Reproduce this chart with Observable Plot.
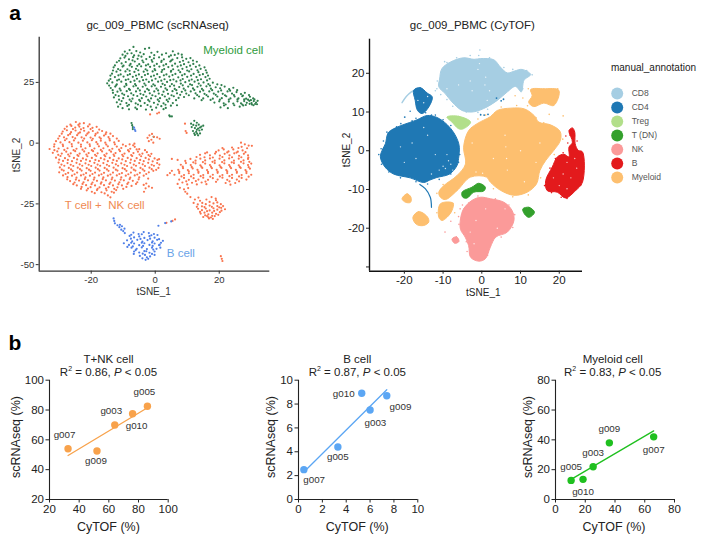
<!DOCTYPE html>
<html><head><meta charset="utf-8">
<script src="https://cdn.jsdelivr.net/npm/d3@7"></script>
<script src="https://cdn.jsdelivr.net/npm/@observablehq/plot@0.6"></script>
<style>
html,body{margin:0;padding:0;background:#fff;}
#page{position:relative;width:709px;height:541px;overflow:hidden;font-family:"Liberation Sans",Arial,sans-serif;color:#222;}
#page>svg,#page>figure{position:absolute;margin:0;}
.t{position:absolute;white-space:nowrap;transform:translate(-50%,-50%);}
.t.v{transform:translate(-50%,-50%) rotate(-90deg);}
</style></head><body><div id="page"></div>
<script>
// ---------- panel a, scRNAseq t-SNE: cells ----------
const myeloidCells=[[-8,38.3],[-6.8,39.6],[-5.9,37.9],[-3.2,38.8],[-1.9,39.2],[-9.5,37.7],[-10.2,36.4],[-8.7,36.9],[-7.4,37],[-6.6,36.1],[-4.7,37.3],[-3.6,36.6],[-1.2,37.2],[0.7,37.6],[2.1,36.4],[3.4,37],[5.5,37.8],[6.1,36.3],[7.2,36.8],[-10.9,34.9],[-9.6,35.2],[-8.2,34.5],[-6.9,35.4],[-5.5,34.7],[-4.3,35.6],[-2.8,34.6],[-1.7,35.5],[-0.4,34.9],[1.2,35.3],[2.7,34.5],[4.3,35.6],[5.4,34.4],[6.9,35],[8.4,35.3],[9.7,34.7],[11,35],[-12,33.3],[-10.5,32.8],[-9.2,33.4],[-7.7,32.6],[-6.4,33.6],[-5,32.5],[-3.7,33.3],[-2.2,32.4],[-0.9,33.5],[0.5,32.6],[1.9,33.4],[3.4,32.5],[4.7,33.6],[6.2,32.7],[7.7,33.4],[9,32.5],[10.4,33.3],[11.9,32.6],[13,33.5],[-13,31.2],[-11.6,30.5],[-10.2,31.5],[-8.7,30.4],[-7.3,31.4],[-6,30.6],[-4.4,31.6],[-3,30.4],[-1.6,31.4],[-0.2,30.5],[1.3,31.5],[2.8,30.5],[4.1,31.3],[5.6,30.4],[7,31.5],[8.5,30.6],[9.8,31.3],[11.3,30.4],[12.7,31.4],[14.2,30.6],[15.4,31.2],[-13.5,28.6],[-12.1,29.4],[-10.8,28.3],[-9.3,29.5],[-7.9,28.4],[-6.5,29.3],[-5.1,28.3],[-3.6,29.4],[-2.3,28.5],[-0.8,29.5],[0.6,28.4],[2,29.3],[3.5,28.3],[4.9,29.4],[6.3,28.5],[7.8,29.2],[9.2,28.4],[10.6,29.5],[12,28.5],[13.5,29.2],[14.9,28.4],[16.1,29],[-14,26.4],[-12.6,27.2],[-11.3,26.2],[-9.9,27.4],[-8.4,26.3],[-7,27.3],[-5.7,26.5],[-4.2,27.2],[-2.8,26.2],[-1.3,27.4],[0.1,26.5],[1.4,27.2],[2.9,26.3],[4.4,27.4],[5.7,26.2],[7.2,27.1],[8.6,26.4],[10,27.3],[11.4,26.2],[12.9,27.2],[14.3,26.3],[15.7,27.2],[17,26.5],[-15,24.6],[-13.4,25],[-12,24.2],[-10.6,25.3],[-9.1,24.4],[-7.7,25.2],[-6.3,24.3],[-4.9,25.4],[-3.4,24.5],[-2,25.2],[-0.6,24.2],[0.9,25.3],[2.3,24.4],[3.7,25.2],[5.2,24.3],[6.6,25.4],[8,24.5],[9.4,25.1],[10.9,24.2],[12.3,25.3],[13.6,24.5],[15.1,25],[16.6,24.3],[18,24.9],[19.4,24.2],[-13.9,22.7],[-12.5,23.3],[-11.1,22.4],[-9.6,23.3],[-8.2,22.3],[-6.8,23.4],[-5.4,22.5],[-3.9,23.2],[-2.5,22.3],[-1.1,23.4],[0.4,22.4],[1.8,23.2],[3.2,22.5],[4.6,23.4],[6.1,22.3],[7.5,23.1],[8.9,22.4],[10.3,23.3],[11.8,22.5],[13.2,23.2],[14.6,22.3],[16,23.4],[17.4,22.4],[18.9,23],[20.3,22.6],[21.7,23.3],[23.1,22.2],[24.4,22.8],[-13.2,20.7],[-11.8,21.2],[-10.3,20.4],[-8.9,21.4],[-7.5,20.5],[-6,21.3],[-4.6,20.3],[-3.2,21.2],[-1.7,20.5],[-0.3,21.3],[1.1,20.4],[2.6,21.2],[4,20.3],[5.4,21.4],[6.8,20.5],[8.3,21.1],[9.7,20.4],[11.1,21.3],[12.6,20.5],[14,21.2],[15.4,20.3],[16.9,21.3],[18.3,20.4],[19.7,21.2],[21.1,20.3],[22.6,21.3],[24,20.4],[25.4,21],[26.8,20.2],[28,20.7],[-12.9,18.8],[-11.4,19.4],[-10,18.5],[-8.5,19.3],[-7.1,18.3],[-5.6,19.4],[-4.2,18.5],[-2.8,19.2],[-1.3,18.4],[0.1,19.3],[1.5,18.5],[3,19.2],[4.4,18.3],[5.8,19.3],[7.3,18.6],[9,19],[12.2,18.4],[13.7,19.2],[15,18.4],[16.5,19.2],[18,18.3],[19.4,19.2],[20.8,18.5],[22.2,19.3],[23.5,18.4],[24.8,19.2],[26,18.4],[27.2,19.3],[28.4,18.3],[29.6,19.1],[30.6,18.4],[-12,16.8],[-10.5,17.3],[-9,16.5],[-7.5,17.2],[-6.1,16.4],[-4.7,17.3],[-3.3,16.5],[-1.8,17.2],[-0.4,16.6],[1.2,17.2],[2.6,16.4],[4,17.1],[5.5,16.5],[18.5,16.7],[20,17.2],[21.4,16.4],[23,17.1],[24.4,16.3],[25.7,17.2],[26.8,16.4],[27.8,17.3],[28.6,16.6],[29.4,17.4],[30.1,16.5],[30.8,17.3],[31.5,16.7],[32,17.4],[29,17.9],[30.2,15.9],[31.2,16.1],[28.3,15.7],[-11.6,15],[-10.2,14.4],[-8.7,15.3],[-6.2,14.6],[-4.5,15.3],[-2.9,13.8],[-1.4,15],[0.3,14.6],[1.9,15.2],[3.3,14.5],[4.9,15.4],[6.8,15.6],[20.4,14.7],[21.5,15.5],[22.7,14.4],[26.4,15],[27.5,15.5],[4.6,11]];
const myeloidCellsB=[[-9.3,35.9],[-5.2,36],[-0.3,36.2],[4.9,36.1],[8.3,36.4],[-11.3,33.9],[-7.1,34.1],[-4,34],[-1.1,34.2],[2,33.9],[5,34],[8.7,33.9],[11.8,34],[-12.6,32],[-9.9,31.9],[-8,32],[-5.6,31.8],[-2.9,32],[-0.3,31.9],[2.6,32],[5.3,31.9],[8,32],[10.9,31.9],[13.8,32],[-13.2,29.9],[-10.9,30],[-8,29.8],[-5.3,30],[-2.5,29.9],[0,30],[2.2,30.1],[5,29.8],[7.3,30],[10,29.9],[13.2,30],[15.8,30],[-14,27.8],[-11.5,27.9],[-8.6,28],[-6,27.8],[-3.2,28],[-0.4,27.8],[2.7,27.9],[5.4,28],[8.4,27.9],[11.2,27.8],[13.9,28],[16.5,27.8],[-14.5,25.7],[-11.9,25.8],[-9.2,26],[-6.5,25.7],[-3.8,25.9],[-1,25.8],[1.9,25.7],[4.7,25.9],[7.9,25.8],[10.6,25.7],[13.3,25.9],[16.2,25.8],[-14.4,23.7],[-12.2,23.8],[-9,23.9],[-6,23.7],[-3,23.8],[-0.1,23.7],[3,23.9],[5.9,23.7],[8.6,23.8],[11.5,23.9],[14.2,23.7],[17.1,23.7],[20.7,23.9],[-13.3,21.8],[-10.8,21.7],[-7.9,21.9],[-4.8,21.7],[-2,21.8],[0.9,21.7],[3.7,21.9],[6.6,21.8],[9.4,21.7],[12.2,21.9],[15,21.7],[17.8,21.8],[20.6,21.7],[23.4,21.6],[25.6,21.8],[-12.4,19.8],[-9.7,19.9],[-6.8,19.8],[-3.7,19.9],[-0.9,19.7],[2.2,19.9],[5.1,19.7],[7.8,19.9],[10.5,19.7],[13.1,19.8],[16,19.8],[18.9,19.9],[21.8,19.7],[24.6,19.8],[27.4,19.6],[29.3,19.8],[-11.3,17.9],[-8,17.9],[-5,17.8],[-2.2,17.8],[0.8,17.9],[3.6,17.8],[6.5,17.7],[14.5,17.7],[17.3,17.8],[20.2,17.9],[23,17.9],[25.7,18],[27.8,18],[29.9,17.7],[31,18],[-10.9,16],[-8.2,15.8],[-5.4,15.9],[-2.4,15.7],[0.8,15.9],[3.2,15.8],[22,15.9],[24.7,15.6],[27.2,15.9],[29.5,16.2],[31.8,16],[30.7,15.6],[-8.2,13.9],[-5.7,14],[-1,13.7],[2.6,14]];
const tCellsLeft=[[-24.8,8.7],[-23.6,8],[-22.3,8.2],[-27.6,6.8],[-26.2,7.1],[-25,6.4],[-23.7,6.8],[-22.4,6.2],[-21,6.9],[-19.6,6.3],[-18.3,6.7],[-28.9,4.8],[-27.6,5.3],[-26.3,4.5],[-24.9,5.2],[-23.5,4.4],[-22.2,5.1],[-20.8,4.4],[-19.5,5],[-18,4.3],[-16.6,5],[-15.3,4.4],[-29.9,2.9],[-28.5,2.4],[-27.2,3.3],[-25.8,2.5],[-24.4,3.3],[-23,2.4],[-21.6,3.2],[-20.2,2.3],[-18.8,3.1],[-17.4,2.4],[-16,3.1],[-14.6,2.5],[-13.2,2.9],[-31,0.8],[-29.6,0.3],[-28.2,1.2],[-26.8,0.4],[-25.4,1.1],[-24,0.2],[-22.6,1],[-21.2,0.3],[-19.8,1.2],[-18.4,0.4],[-17,1],[-15.6,0.2],[-14.2,1.1],[-12.8,0.3],[-11.4,0.9],[-8,-0.5],[-6.5,-0.2],[-33,-2.4],[-31.6,-1.4],[-30.2,-2.2],[-28.8,-1.2],[-27.4,-2.1],[-26,-1.3],[-24.6,-2.3],[-23.2,-1.4],[-21.8,-2.1],[-20.4,-1.2],[-19,-2.2],[-17.6,-1.3],[-16.2,-2.1],[-14.8,-1.3],[-13.4,-2.3],[-12,-1.4],[-10.6,-2],[-9.2,-1.2],[-7.8,-2.3],[-6.4,-1.5],[-5,-2.5],[-32,-4],[-30.6,-3.4],[-29.2,-4.3],[-27.8,-3.5],[-26.4,-4.2],[-25,-3.3],[-23.6,-4.3],[-22.2,-3.4],[-20.8,-4.1],[-19.4,-3.3],[-18,-4.2],[-16.6,-3.4],[-15.2,-4.3],[-13.8,-3.5],[-12.4,-4.1],[-11,-3.3],[-9.6,-4.3],[-8.2,-3.4],[-6.8,-4.1],[-5.4,-3.5],[-4,-4.3],[-2.6,-3.7],[-1.2,-4.4],[-31,-6],[-29.6,-5.3],[-28.2,-6.2],[-26.8,-5.4],[-25.4,-6.1],[-24,-5.3],[-22.6,-6.3],[-21.2,-5.4],[-19.8,-6.1],[-18.4,-5.3],[-17,-6.2],[-15.6,-5.4],[-14.2,-6.1],[-12.8,-5.3],[-11.4,-6.3],[-10,-5.4],[-8.6,-6.1],[-7.2,-5.3],[-5.8,-6.2],[-4.4,-5.4],[-3,-6.1],[-1.6,-5.4],[-0.2,-6.3],[1.2,-6.6],[-30.2,-8],[-28.8,-7.3],[-27.4,-8.2],[-26,-7.4],[-24.6,-8.1],[-23.2,-7.3],[-21.8,-8.3],[-20.4,-7.4],[-19,-8.1],[-17.6,-7.3],[-16.2,-8.2],[-14.8,-7.4],[-13.4,-8.1],[-12,-7.3],[-10.6,-8.3],[-9.2,-7.4],[-7.8,-8.1],[-6.4,-7.3],[-5,-8.2],[-3.6,-7.4],[-2.2,-8.1],[-0.8,-7.5],[0.6,-8.2],[-29.8,-10],[-28.4,-9.3],[-27,-10.2],[-25.6,-9.4],[-24.2,-10.1],[-22.8,-9.3],[-21.4,-10.3],[-20,-9.4],[-18.6,-10.1],[-17.2,-9.3],[-15.8,-10.2],[-14.4,-9.4],[-13,-10.1],[-11.6,-9.3],[-10.2,-10.3],[-8.8,-9.4],[-7.4,-10.1],[-6,-9.3],[-4.6,-10.2],[-3.2,-9.4],[-1.8,-10.1],[-0.4,-9.3],[1,-10.2],[-30,-12],[-28.6,-11.3],[-27.2,-12.2],[-25.8,-11.4],[-24.4,-12.1],[-23,-11.3],[-21.6,-12.3],[-20.2,-11.4],[-18.8,-12.1],[-17.4,-11.3],[-16,-12.2],[-14.6,-11.4],[-13.2,-12.1],[-11.8,-11.3],[-10.4,-12.3],[-9,-11.4],[-7.6,-12.1],[-6.2,-11.3],[-4.8,-12.2],[-3.4,-11.4],[-2,-12],[-0.6,-11.4],[-28.8,-13.3],[-27.4,-14],[-26,-13.4],[-24.6,-14.2],[-23.2,-13.3],[-21.8,-14.1],[-20.4,-13.4],[-19,-14.2],[-17.6,-13.3],[-16.2,-14.1],[-14.8,-13.4],[-13.4,-14.2],[-12,-13.3],[-10.6,-14.1],[-9.2,-13.4],[-7.8,-14.2],[-6.4,-13.3],[-5,-14.1],[-3.6,-13.4],[-2.2,-14.6],[-26.6,-15.6],[-25.2,-16.2],[-23.8,-15.4],[-22.4,-16.1],[-21,-15.3],[-19.6,-16.2],[-18.2,-15.5],[-16.8,-16.1],[-15.4,-15.3],[-14,-16.2],[-12.6,-15.4],[-11.2,-16.1],[-9.8,-15.3],[-8.4,-16.2],[-7,-15.5],[-5.6,-16.1],[-3.6,-17.2],[-24.5,-17.4],[-23,-18],[-21.6,-17.3],[-20.2,-18.1],[-18.8,-17.4],[-17.4,-18.2],[-16,-17.3],[-14.6,-18.1],[-13.2,-17.4],[-11.8,-18.2],[-10.4,-17.4],[-9,-18],[-7.4,-17.6],[-3,-18.6],[-2,-17.8],[-1,-18.4],[-21.4,-19.4],[-19.8,-20],[-18.2,-19.3],[-16.8,-20.2],[-15.2,-19.4],[-13.6,-20],[-12.2,-19.3],[-3.5,-20],[-14.8,-21.5],[-14,-22.3]];
const tCellsLeftB=[[-26.5,7.6],[-24,7.5],[-20.5,7.7],[-28.3,5.9],[-25.7,5.8],[-23.2,5.7],[-20.2,5.8],[-17.5,5.6],[-29.2,3.9],[-26.6,3.8],[-24,4],[-21.2,3.9],[-18.6,3.8],[-15.5,3.7],[-14,3.9],[-30.3,1.9],[-27.7,1.8],[-25,2],[-22.2,1.9],[-19.5,1.8],[-17,1.9],[-14.3,1.8],[-12,1.9],[-31.5,-0.5],[-28.9,-0.6],[-26.1,-0.4],[-23.2,-0.6],[-20.5,-0.5],[-18,-0.4],[-15.3,-0.6],[-12.6,-0.5],[-10.1,-0.6],[-6.9,-0.9],[-31.5,-2.9],[-28.4,-2.8],[-25.5,-2.9],[-22.7,-2.7],[-19.8,-2.9],[-17,-2.8],[-14.3,-2.9],[-11.3,-2.7],[-8.5,-2.9],[-5.8,-2.6],[-3.2,-2.9],[-30.3,-4.8],[-27.2,-4.7],[-24.3,-4.9],[-21.5,-4.7],[-18.8,-4.8],[-15.9,-4.9],[-13,-4.7],[-10.3,-4.8],[-7.5,-4.9],[-4.9,-4.7],[-2.1,-4.9],[-30,-6.8],[-27.3,-6.9],[-24.4,-6.7],[-21.6,-6.8],[-18.7,-6.9],[-15.9,-6.7],[-13.1,-6.9],[-10.3,-6.7],[-7.6,-6.8],[-4.7,-6.9],[-2,-6.7],[0.7,-6.9],[-29.3,-8.8],[-26.4,-8.9],[-23.6,-8.7],[-20.8,-8.9],[-18,-8.8],[-15.1,-8.9],[-12.3,-8.7],[-9.6,-8.9],[-6.7,-8.8],[-3.9,-8.7],[-1.1,-8.9],[1.3,-8.8],[-29.2,-10.9],[-26.3,-10.8],[-23.5,-10.7],[-20.7,-10.9],[-17.9,-10.7],[-15.1,-10.8],[-12.3,-10.9],[-9.5,-10.7],[-6.7,-10.9],[-3.9,-10.8],[-1.1,-10.7],[0.3,-11],[-28,-12.7],[-25.2,-12.8],[-22.4,-12.9],[-19.6,-12.7],[-16.8,-12.8],[-14,-12.9],[-11.2,-12.7],[-8.4,-12.8],[-5.6,-12.9],[-2.8,-12.7],[-27.5,-14.9],[-24.8,-15],[-22,-14.8],[-19.2,-15],[-16.4,-14.8],[-13.6,-14.9],[-10.8,-15],[-8,-14.8],[-5.2,-14.9],[-25.6,-16.9],[-22.7,-16.8],[-19.9,-16.9],[-17,-16.7],[-14.3,-16.8],[-11.5,-16.9],[-8.7,-16.8],[-6,-16.8],[-2.8,-16.6],[-23.2,-18.8],[-21,-18.7],[-18,-18.8],[-15.4,-18.7],[-12.8,-18.8],[-10,-18.8],[-18.9,-20.6],[-15.8,-20.7],[-12.9,-20.4]];
const tCellsRight=[[26.8,0.2],[28,-0.5],[29.2,-1],[30.2,-1.1],[27,-1.5],[19.8,-3],[21.4,-2.6],[22.9,-3.4],[24.4,-2.6],[25.8,-3.5],[27.3,-3],[14,-4.8],[15.6,-4.2],[17.1,-5],[18.7,-4.3],[20.2,-5.1],[21.7,-4.4],[23.2,-5],[24.7,-4.2],[26.2,-5.2],[27.7,-4.4],[29,-5],[5.2,-6.5],[7,-6.9],[11,-6.5],[12.6,-7.2],[14.1,-6.4],[15.6,-7.1],[17.1,-6.3],[18.6,-7.2],[20.1,-6.4],[21.6,-7.1],[23.1,-6.3],[24.6,-7.2],[26.1,-6.4],[27.6,-7.1],[29,-6.5],[8,-8.9],[9.6,-8.2],[11.1,-9],[12.6,-8.3],[14.1,-9.1],[15.6,-8.4],[17.1,-9],[18.6,-8.2],[20.1,-9.1],[21.6,-8.3],[23.1,-9],[24.6,-8.2],[26.1,-9.1],[27.6,-8.3],[29,-9],[30,-8.4],[7.2,-11],[8.7,-10.3],[10.2,-11.1],[11.7,-10.4],[13.2,-11],[14.7,-10.2],[16.2,-11.1],[17.7,-10.3],[19.2,-11],[20.7,-10.2],[22.2,-11.1],[23.7,-10.3],[25.2,-11],[26.7,-10.2],[28.2,-11.1],[29.6,-10.5],[6,-13],[7.5,-12.3],[9,-13.1],[10.5,-12.4],[12,-13],[13.5,-12.2],[15,-13.1],[16.5,-12.3],[18,-13],[19.5,-12.2],[21,-13.1],[22.5,-12.3],[24,-13],[25.5,-12.2],[27,-13.1],[28.5,-12.3],[30,-13],[4.6,-12.3],[3.8,-13.2],[5.2,-11.4],[7.5,-15],[9,-14.3],[10.5,-15.1],[12,-14.4],[13.5,-15],[15,-14.2],[16.5,-15.1],[18,-14.4],[19.5,-15],[21,-14.2],[22.5,-15.1],[24,-14.3],[25.5,-15],[27,-14.3],[28.5,-15],[7,-16.8],[8.5,-16.2],[10,-17],[11.5,-16.3],[13,-17],[14.5,-16.2],[16,-16.9],[22,-16.4],[23.5,-17.1],[25,-16.4],[7.7,-18.4],[9,-19],[10.3,-18.5],[9.4,-20],[10,-20.8],[11,-22.2],[12.4,-23.2],[13.5,-22.4],[14.7,-24.6],[16,-23.2],[17.6,-22.2],[18.9,-22.8],[19.4,-24.4],[12,-24.6],[13.3,-25.2],[14.6,-26],[15.8,-25.1],[17,-25.7],[18.2,-24.8],[19.4,-25.9],[20.5,-25.1],[13.4,-27],[14.6,-27.6],[15.8,-26.9],[17,-27.7],[18.2,-26.8],[19.4,-27.4],[20.6,-26.6],[21.8,-27.2],[14.2,-29],[15.4,-28.6],[16.6,-29.3],[17.8,-28.6],[19,-29.1],[20.2,-28.4],[15,-30.4],[16.2,-30],[17.4,-30.6],[18.6,-30],[16.8,-31],[18,-31.2]];
const tCellsRightB=[[21,-2],[24,-1.8],[26,-2],[28.7,-2.1],[16.2,-3.8],[19,-3.6],[22.5,-3.8],[25.4,-3.9],[28.2,-3.7],[12.9,-5.7],[15.4,-5.8],[18,-5.9],[21,-5.7],[24,-5.8],[26.9,-5.8],[29.1,-5.9],[9.4,-7.3],[11.9,-7.9],[14.9,-7.8],[17.9,-7.7],[20.9,-7.8],[23.9,-7.9],[26.8,-7.7],[29.4,-7.7],[8.6,-9.7],[11.4,-9.8],[14.4,-9.7],[17.4,-9.7],[20.4,-9.8],[23.4,-9.7],[26.4,-9.8],[29.2,-9.9],[7.5,-11.7],[10.5,-11.6],[13.5,-11.7],[16.5,-11.8],[19.5,-11.7],[22.5,-11.6],[25.5,-11.7],[28.5,-11.7],[8.2,-13.7],[11.2,-13.7],[14.2,-13.6],[17.2,-13.8],[20.2,-13.7],[23.2,-13.6],[26.2,-13.7],[29.2,-13.8],[9.7,-15.7],[12.7,-15.6],[15.7,-15.8],[19,-15.9],[23.2,-15.7],[26.2,-15.7],[14,-23.7],[17,-24.2],[19,-23.5],[13,-26.2],[15.4,-26.3],[17.7,-26.2],[20,-26.4],[21.2,-25.9],[14,-28.3],[16.2,-28],[18.4,-27.9],[20.7,-27.8],[15.6,-29.7],[17.8,-29.9],[19.7,-29.5],[16.6,-30.5]];
const tCellsSmall=[[-2.4,2.2],[-1.8,3.2],[-1,3.8],[-0.4,2.6],[0.6,2.4],[1.4,1.8],[-2,0.8],[-1.2,1.4],[-0.6,0.2],[9.5,5],[9.8,4.2],[9.3,8],[-1.6,11.8],[0.6,12.2],[1.2,12.6],[20.5,-46.5],[20.8,-47.6],[21,-48.5],[3.5,-32.8],[5.4,-32],[6.2,-31.4]];
const bCells=[[-13,-31],[-12.8,-32],[-12.6,-33],[-11.8,-33.8],[-11.2,-34.6],[-11,-33.6],[-10.4,-34.2],[-10.6,-35.6],[-10,-36.2],[-9.5,-37],[-9.6,-35.2],[-6.8,-36.8],[-5.2,-37.4],[-3.6,-36.6],[-2,-37],[-0.4,-37.4],[-8,-38.2],[-6.6,-38.8],[-5,-38.4],[-3.4,-39],[-1.8,-38.3],[-0.2,-38.9],[0.7,-37.8],[-8.8,-40],[-7.2,-40.4],[-5.6,-39.8],[-4,-40.5],[-2.4,-39.9],[-0.8,-40.4],[0.6,-39.8],[2.4,-40.2],[-9.8,-41.2],[-8.2,-41.9],[-6.6,-41.3],[-5,-42],[-3.4,-41.2],[-1.8,-41.9],[-0.2,-41.3],[1.2,-42],[-7.4,-43],[-5.8,-43.5],[-4.2,-42.9],[-2.6,-43.6],[-1,-43],[0.4,-43.5],[1.6,-43],[-6.6,-44.6],[-5,-45],[-3.4,-44.4],[-1.8,-45.1],[-0.2,-44.6],[-4.8,-46.4],[-3.2,-46],[-1.6,-46.6],[-0.2,-46],[-4,-47.4],[-3,-48],[-2.2,-47.6],[1,-34],[-7.5,-37.7],[-4.2,-37.5],[-1.2,-37.9],[-7.6,-39.3],[-4.6,-39.4],[-1.6,-39.3],[1.2,-39.5],[-7.5,-41],[-4.2,-41],[-1,-40.9],[1.8,-41],[-7,-42.5],[-3.8,-42.3],[-0.8,-42.3],[1.4,-41.8],[-6.1,-44],[-2.8,-44.5],[-0.6,-43.8],[-3.9,-45.5],[-1,-45.6],[-2.6,-47],[-8.7,-42.7],[-6.7,-45.6]];
const greenSmall=[[-7.4,8.3],[-7.2,7.4],[-7,6.6],[12.2,9.2],[13,8.4],[13.6,7.6],[11.4,6.6],[12.4,6.2],[13.4,6],[14.4,6.8],[15,7.2],[11.8,5],[12.8,4.6],[13.8,5.2],[14.6,5.6],[12.4,3.4],[13.4,3.2],[14,4],[11.2,8],[4.4,11.4],[5.2,11],[-0.5,2.6],[-7,5.8],[12.8,7.2],[11.9,7.5],[13,5.5],[14,6.4],[12.2,4],[13.1,3.9]];
const blueSmall=[[-6.6,6.4],[-6.4,5.6],[-6.2,5],[3.1,-32.9],[5,-32.2]];
const clusterNames=["Myeloid cell","T cell +  NK cell","B cell"];
const clusterColors=["#2E9B3C","#F08A52","#6AA3E8"];
const clusterX=[24.4,-15.8,8],clusterY=[38,-25.5,-45.5];
const xTicksA=[-20,0,20],yTicksA=[-50,-25,0,25];
// ---------- panel a, CyTOF t-SNE: cluster outlines and holes ----------
const types=["CD8","CD4","Treg","T (DN)","NK","B","Myeloid"];
const typeColors=["#A6CEE3","#1F78B4","#B2DF8A","#33A02C","#FB9A99","#E31A1C","#FDBF6F"];
const cd8Main=[[-11.1,16.5],[-10.9,18.5],[-10.3,21.2],[-8.1,22.9],[-4.7,24],[-2,23.6],[-0.3,23.8],[3.1,23.5],[4.8,21.6],[6.6,20.1],[8.5,20.6],[10.4,21],[12.6,19.7],[10.9,18.2],[10.2,15.2],[8.7,16.6],[6.6,15.2],[4,13],[0.5,10.9],[-2.5,10],[-5.1,10.4],[-7.7,12.6],[-9.4,14.7]];
const cd4Small=[[-17.6,15.6],[-15.9,16.3],[-14.1,14.9],[-12.8,13.9],[-13.7,11.3],[-15.4,9.6],[-16.6,10.4],[-17.2,13]];
const cd4Main=[[-26.2,-1.6],[-25.6,0.4],[-24.9,1.8],[-24.2,4.6],[-22.9,5.6],[-20.6,6.6],[-18.6,7.3],[-16.7,8],[-14.1,9.1],[-11.6,8.6],[-9,6.8],[-7.2,4.6],[-6.2,2.6],[-5.8,0.9],[-6,-2],[-6.4,-3.8],[-8.3,-6],[-11.6,-6.9],[-13.5,-7.6],[-15,-8.2],[-18.5,-7],[-22.8,-6],[-25,-4.2]];
const tregMain=[[-9,8.7],[-6,8.9],[-2.9,7.4],[-4.7,5.7],[-6,5.7],[-7.7,7.4]];
const myeloidMain=[[-11.1,-10.7],[-9.8,-9],[-6.4,-6.4],[-4.2,-3.4],[-4.7,0.9],[-3.4,5.2],[-1.2,7],[2.2,8.8],[4,10.4],[7.5,11],[11,10.8],[13.6,9],[14.7,7.4],[17.7,6.7],[20.2,5],[20.3,2.7],[18.6,0.1],[16.5,-2.5],[15,-5.1],[14.1,-8.6],[11.7,-10.7],[8.3,-11.5],[4.8,-10.2],[2.2,-8.1],[1.2,-6.8],[-2.9,-6.8],[-6.4,-10.3],[-9.4,-12.6],[-10.7,-12]];
const myeloidTop=[[12.6,15.8],[16,16],[19.9,15.6],[18.6,11.7],[16,12.3],[13.4,11.4],[12.1,12.5],[13,14.2]];
const myeloidTiny=[[-20.6,-12.4],[-19.3,-11.1],[-18.3,-12],[-18.4,-13.3],[-19.7,-13.3]];
const myeloidBlobA=[[-17.8,-17.2],[-16.3,-15.7],[-14.1,-17],[-13.7,-18.4],[-15,-19.3],[-16.9,-19]];
const myeloidBlobB=[[-10.7,-13.7],[-7.4,-13.5],[-7.7,-15.4],[-9,-17.2],[-10.3,-18],[-11.1,-17.2]];
const tdnMain=[[-5.1,-10.7],[-2.5,-9.4],[-0.8,-8.4],[0.9,-9.4],[0.5,-10.4],[-2.1,-10.7],[-3.8,-12.2],[-4.9,-12]];
const tdnSmall=[[10.6,-15],[12.2,-14.6],[13.6,-15.9],[12.2,-17.2],[11,-16.3]];
const nkMain=[[-5.5,-17.6],[-4.7,-15],[-2.5,-12.8],[-0.3,-12],[2.2,-12.4],[5.7,-13.3],[7.8,-15.4],[8.3,-18],[6.6,-21],[3.6,-22.3],[2.2,-24.9],[0.9,-27.9],[-0.8,-28.5],[-2.9,-27.5],[-3.4,-24.5],[-4.3,-22.3],[-5.5,-20.3]];
const nkSmall=[[-7.7,-22.8],[-6.5,-22.2],[-5.9,-23.4],[-7,-23.9]];
const bMain=[[16.5,-7.7],[18.2,-4.2],[19.5,-1.6],[21.2,-0.9],[22.5,-1.6],[22.5,0.9],[23.4,2.2],[22.5,5.2],[23.4,5.9],[24,4.8],[24.1,1.8],[24.9,0.1],[26,-0.3],[26,-8.1],[24.2,-10.3],[21.6,-12.2],[19.5,-10.7],[16.9,-10.3]];
const whiteHoles=[[-3,18],[-2.5,15.5],[1,19],[2,15.5],[-6,17],[-9,16],[-1,21],[-0.6,22.5],[0.8,17],[1.4,13],[-16.5,13],[-15,12.4],[-14,14],[-18,2],[-14,4],[-12,-1],[-9,-1],[-20,-3],[-10,-4],[-8,-3.5],[-11,-5],[-15,6],[-21,1],[-8.6,-2.6],[-9.4,-4.6],[-7.5,-5],[-13,-6],[-17,-2],[6,4],[6.2,1],[6.4,-2],[6.6,-5],[-1.5,-5.5],[0.2,-5.8],[10,0],[11,-8],[15,2],[14,-3],[3,-2],[-2.5,2],[-2,-24],[-1.5,-18],[4,-20],[6,-15],[-3,-21],[1,-15],[21,-6],[22,-3],[23,-7],[20,-9],[24,-2],[18.5,-7],[24.5,-4.5],[22,-9.8]];
const fringeCD8=[[-11.5,18],[-11.6,16],[-10.6,20.2],[-9,22.8],[-6.5,24],[-0.5,26],[2,24],[-3,24.6],[5.7,21.5],[8,21],[11.6,20.7],[13,19.6],[10.6,16],[-10.6,14.5],[-9,13.2],[-7.5,11.5],[-4,10],[-1,9.9],[1.5,10.7],[-12,15.5],[-0.8,24.6],[-9.6,23]];
const fringeCD4=[[-26.6,-1],[-26,0.5],[-25.4,2.5],[-24.5,4.8],[-22,6.2],[-18,7.7],[-14.5,9.8],[-13,9.2],[-10,8],[-8,6.5],[-7,3],[-5.7,-1],[-6,-3],[-8,-6],[-14,-8.6],[-17,-8],[-21,-7],[-24,-5.5],[-25.9,-3.5],[-17,8.4],[-20.9,7],[-16.9,16],[-18.5,10.2],[-11,-7.4],[-12,9.2]];
const fringeMyeloid=[[-11.6,-11],[-10,-8.7],[1,9.2],[-1,8.2],[5,11.3],[9,11.7],[14,8.5],[16,7.2],[20.9,3],[18.7,-1],[15.2,-7],[12,-11.4],[8,-11.9],[3,-9.8],[12,16],[19.6,16],[11.8,11.6],[8.6,14.2],[10.6,13.6],[21,9],[17.4,9.4],[-11.6,-16],[-7,-16]];
const fringeNK=[[-5.9,-19],[-5,-14],[-3.4,-13.5],[-1,-11.7],[3.5,-12.4],[7,-14],[8.5,-16.5],[8,-19.8],[5,-22.3],[-4,-23.5],[-3.8,-26],[1.5,-27],[-6,-17],[-8,-18.2],[-9.5,-21],[-5.6,-15]];
const fringeB=[[16.2,-9],[17.6,-4.5],[19,-2],[21,-0.5],[22.2,2],[21.7,3.8],[22.8,4],[24.6,2.5],[20.5,-12],[22,-12.3],[25.6,-8.8],[18,-10.8]];
const wispCD4=[[-16,-8.7],[-14.6,-9.8],[-13.3,-12],[-13,-14.6]];
const wispLight=[[-20.6,12.4],[-19.5,14],[-18.2,15.2],[-17.5,15.6]];
const blueSpecks=[[-0.3,9.3],[0.6,9.2],[1.6,9.4],[5,12.9],[5.6,13.3],[3.8,13.6],[-19.9,8.7]];
const xTicksB=[-20,-10,0,10,20],yTicksB=[-30,-20,-10,0,10,20];
// ---------- panel b: correlations ----------
const samples=["g003","g005","g007","g009","g010"];
const tnkX=[64,86,32.5,52,76],tnkY=[70,82.5,54,52.5,77.5];
const bX=[6,3.3,0.45,7.4,5.3],bY=[7.5,4.4,2.5,8.7,8.9];
const myeX=[25.3,10.5,66,36.2,18.5],myeY=[22,12.8,42,38,13.5];
const tnkFitX=[32.5,86],tnkFitY=[49.5,81.5];
const bFitX=[0.45,7.4],bFitY=[2.3,9.2];
const myeFitX=[10.5,66],myeFitY=[13.5,46];
const tnkTicksX=[20,40,60,80,100],tnkTicksY=[20,40,60,80,100];
const bTicksX=[0,2,4,6,8,10],bTicksY=[0,2,4,6,8,10];
const myeTicksX=[0,20,40,60,80],myeTicksY=[0,20,40,60,80];

const page=document.getElementById("page");
const font='"Liberation Sans",Arial,sans-serif';
function place(el,left,top){el.style.left=left+"px";el.style.top=top+"px";page.appendChild(el);}
function text(html,x,y,size,extra,cls){const d=document.createElement("div");d.className="t"+(cls?" "+cls:"");d.innerHTML=html;d.style.left=x+"px";d.style.top=y+"px";d.style.fontSize=size+"px";if(extra)Object.assign(d.style,extra);page.appendChild(d);}
const hy=d=>String(d);
const pts=a=>a.map(([x,y])=>({x,y}));

// scRNAseq t-SNE
const Aaxis="#333";
const cellDot=(a,fill)=>Plot.dot(pts(a),{x:"x",y:"y",r:1.1,fill});
place(Plot.plot({
  width:290,height:300,marginLeft:38.7,marginRight:20.7,marginTop:36.7,marginBottom:29.3,
  style:{fontFamily:font,background:"transparent",overflow:"visible"},
  x:{domain:[-36.25,35.8]},y:{domain:[-52.7,43.6]},
  marks:[
    cellDot(myeloidCells,"#2F7F4D"),cellDot(myeloidCellsB,"#2F7F4D"),cellDot(greenSmall,"#2F7F4D"),
    cellDot(tCellsLeft,"#F9744E"),cellDot(tCellsLeftB,"#F9744E"),cellDot(tCellsRight,"#F9744E"),cellDot(tCellsRightB,"#F9744E"),cellDot(tCellsSmall,"#F9744E"),
    cellDot(bCells,"#4F7FE8"),cellDot(blueSmall,"#4F7FE8"),
    Plot.text(clusterNames,{x:(d,i)=>clusterX[i],y:(d,i)=>clusterY[i],text:d=>d,fill:(d,i)=>clusterColors[i],fontSize:11.5,fontFamily:font}),
    Plot.ruleX([-36.25],{stroke:"#333",strokeWidth:1.3}),
    Plot.ruleY([-52.7],{stroke:"#333",strokeWidth:1.3}),
    Plot.axisX({ticks:xTicksA,tickFormat:hy,tickSize:3,tickPadding:2,fontSize:9.5,color:Aaxis,label:null}),
    Plot.axisY({ticks:yTicksA,tickFormat:hy,tickSize:3,tickPadding:2,fontSize:9.5,color:Aaxis,label:null})
  ]
}),0,0);

// CyTOF t-SNE
const shapes=[["CD8",cd8Main],["CD4",cd4Main],["CD4",cd4Small],["Treg",tregMain],["Myeloid",myeloidMain],["Myeloid",myeloidTop],["Myeloid",myeloidTiny],["Myeloid",myeloidBlobA],["Myeloid",myeloidBlobB],["T (DN)",tdnMain],["T (DN)",tdnSmall],["NK",nkMain],["NK",nkSmall],["B",bMain]];
const outlines=shapes.flatMap(([type,a],id)=>a.map(([x,y])=>({x,y,type,id})));
const fringes=[["CD8",fringeCD8],["CD4",fringeCD4],["Myeloid",fringeMyeloid],["NK",fringeNK],["B",fringeB]].flatMap(([type,a])=>a.map(([x,y])=>({x,y,type})));
const colorScale={domain:types,range:typeColors};
place(Plot.plot({
  width:255,height:300,marginLeft:34,marginRight:8,marginTop:38.7,marginBottom:29.3,
  style:{fontFamily:font,background:"transparent",overflow:"visible"},
  x:{domain:[-29,26]},y:{domain:[-31.1,28.8]},color:colorScale,
  marks:[
    Plot.line(pts(wispLight),{x:"x",y:"y",stroke:"#A6CEE3",strokeWidth:1.4,curve:"catmull-rom"}),
    Plot.line(outlines,{x:"x",y:"y",z:"id",fill:"type",stroke:"type",strokeWidth:1,curve:"catmull-rom-closed"}),
    Plot.dot(fringes,{x:"x",y:"y",r:0.8,fill:"type"}),
    Plot.line(pts(wispCD4),{x:"x",y:"y",stroke:"#1F78B4",strokeWidth:1.2,curve:"catmull-rom"}),
    Plot.dot(pts(blueSpecks),{x:"x",y:"y",r:0.9,fill:"#1F78B4"}),
    Plot.dot(pts(whiteHoles),{x:"x",y:"y",r:0.7,fill:"#fff",opacity:0.8}),
    Plot.ruleX([-29],{stroke:"#111",strokeWidth:1.4}),
    Plot.ruleY([-31.1],{stroke:"#111",strokeWidth:1.4}),
    Plot.axisX({ticks:xTicksB,tickFormat:hy,tickSize:3,tickPadding:2,fontSize:11.5,color:"#222",label:null}),
    Plot.axisY({ticks:yTicksB,tickFormat:d=>d===-30?"":String(d),tickSize:3,tickPadding:2,fontSize:11.5,color:"#222",label:null})
  ]
}),335,0);

// legend
place(Plot.plot({
  width:100,height:130,margin:0,axis:null,
  style:{fontFamily:font,background:"transparent"},
  x:{domain:[0,1],range:[6.7,90]},y:{type:"point",domain:types,range:[15,115]},color:colorScale,
  marks:[
    Plot.dot(types,{x:()=>0,y:d=>d,fill:d=>d,r:6}),
    Plot.text(types,{x:()=>0,y:d=>d,text:d=>d,dx:14.5,textAnchor:"start",fontSize:8.5,fill:"#555"})
  ]
}),610,70);

// correlation panels
function corr({w,xDom,yDom,xs,ys,fx,fy,color,xt,yt,off}){
  const rows=samples.map((s,i)=>({s,x:xs[i],y:ys[i]}));
  const fit=fx.map((x,i)=>({x,y:fy[i]}));
  return Plot.plot({
    width:w+70,height:170,marginLeft:50,marginRight:20,marginTop:9.7,marginBottom:41,
    style:{fontFamily:font,background:"transparent",overflow:"visible"},
    x:{domain:xDom},y:{domain:yDom},
    marks:[
      Plot.line(fit,{x:"x",y:"y",stroke:color,strokeWidth:1.3}),
      Plot.dot(rows,{x:"x",y:"y",r:3.7,fill:color}),
      ...rows.map(r=>Plot.text([r],{x:"x",y:"y",text:"s",dx:off[r.s][0],dy:off[r.s][1],fontSize:9.8,fill:"#333"})),
      Plot.ruleX([xDom[0]],{stroke:"#222",strokeWidth:1.1}),
      Plot.ruleY([yDom[0]],{stroke:"#222",strokeWidth:1.1}),
      Plot.axisX({ticks:xt,tickSize:3.5,tickPadding:2,fontSize:11.5,color:"#222",label:null}),
      Plot.axisY({ticks:yt,tickSize:3.5,tickPadding:2,fontSize:11.5,color:"#222",label:null})
    ]
  });
}
const tnkOff={g003:[-3.5,-14.4],g005:[-3,-14],g007:[-3.5,-14],g009:[-1,9.5],g010:[4,12.5]};
const bOff={g003:[5.3,12.7],g005:[0,9.7],g007:[10.3,9.7],g009:[13.7,10.7],g010:[-18,0.7]};
const myeOff={g003:[0,-14],g005:[0,-14],g007:[0,12.7],g009:[0,-14],g010:[0,12.7]};
place(corr({w:118.7,xDom:[20,100],yDom:[20,100],xs:tnkX,ys:tnkY,fx:tnkFitX,fy:tnkFitY,color:"#F8A24B",xt:tnkTicksX,yt:tnkTicksY,off:tnkOff}),-0.7,370);
place(corr({w:119.3,xDom:[0,10],yDom:[0,10],xs:bX,ys:bY,fx:bFitX,fy:bFitY,color:"#5BA6F4",xt:bTicksX,yt:bTicksY,off:bOff}),248,370);
place(corr({w:119,xDom:[0,80],yDom:[0,80],xs:myeX,ys:myeY,fx:myeFitX,fy:myeFitY,color:"#1FC01F",xt:myeTicksX,yt:myeTicksY,off:myeOff}),504.7,370);

// titles and axis labels
text("a",15,13,21,{fontWeight:"bold",color:"#000"});
text("b",15,343,21,{fontWeight:"bold",color:"#000"});
text("gc_009_PBMC (scRNAseq)",157.7,25,11.5);
text("gc_009_PBMC (CyTOF)",472.3,25,11.5);
text("manual_annotation",653.5,67,10);
text("tSNE_1",153.7,291,10,{color:"#333"});
text("tSNE_2",16,155,10,{color:"#333"},"v");
text("tSNE_1",483.3,292,10,{color:"#222"});
text("tSNE_2",345.7,150,10,{color:"#222"},"v");
const heads=[["T+NK cell",108.5,"0.86",108.4,16.3],["B cell",357.3,"0.87",357.3,271],["Myeloid cell",612.7,"0.83",614,528.3]];
heads.forEach(([n,x,r,lx,ly])=>{
  text(n,x,359,11.5);
  text("R<sup style='font-size:7px;line-height:0'>2</sup> = "+r+", <i>P</i> &lt; 0.05",x,372,11.5);
  text("CyTOF (%)",lx,526.7,12.5);
  text("scRNAseq (%)",ly,437,12.5,null,"v");
});
</script></body></html>
